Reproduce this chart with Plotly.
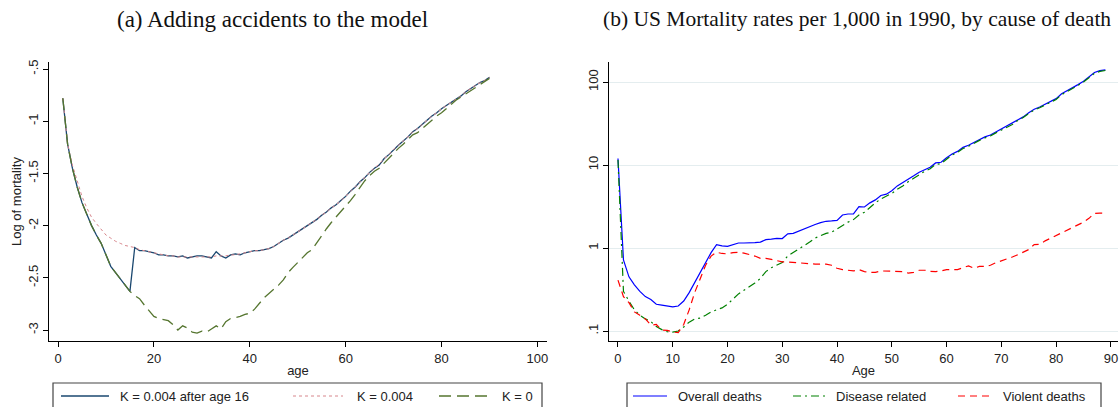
import plotly.graph_objects as go

W, H = 1119, 407

# ---------------- Panel (a) data ----------------
age_a = list(range(1, 91))
k_after16 = [
    -0.78, -1.22, -1.45, -1.63, -1.78, -1.90, -2.00, -2.09, -2.17, -2.28,
    -2.39, -2.45, -2.51, -2.57, -2.63, -2.21, -2.24, -2.24, -2.25, -2.26,
    -2.28, -2.28, -2.29, -2.29, -2.30, -2.29, -2.31, -2.30, -2.29, -2.29,
    -2.30, -2.31, -2.25, -2.29, -2.31, -2.28, -2.27, -2.28, -2.26, -2.25,
    -2.24, -2.24, -2.23, -2.22, -2.20, -2.17, -2.14, -2.12, -2.09, -2.06,
    -2.03, -2.00, -1.97, -1.94, -1.90, -1.87, -1.83, -1.80, -1.76, -1.72,
    -1.67, -1.63, -1.58, -1.54, -1.49, -1.45, -1.42, -1.36, -1.32, -1.27,
    -1.23, -1.19, -1.15, -1.10, -1.07, -1.03, -0.99, -0.95, -0.92, -0.88,
    -0.85, -0.82, -0.79, -0.76, -0.72, -0.69, -0.66, -0.63, -0.61, -0.58,
]
k_004 = [
    -0.78, -1.22, -1.42, -1.58, -1.72, -1.83, -1.92, -1.98, -2.04, -2.09,
    -2.12, -2.15, -2.17, -2.19, -2.20, -2.21, -2.23, -2.24, -2.25, -2.26,
    -2.27, -2.28, -2.29, -2.29, -2.30, -2.30, -2.30, -2.30, -2.30, -2.30,
    -2.30, -2.30, -2.29, -2.29, -2.29, -2.28, -2.28, -2.27, -2.26, -2.25,
    -2.24, -2.24, -2.23, -2.22, -2.20, -2.17, -2.14, -2.12, -2.09, -2.06,
    -2.03, -2.00, -1.97, -1.94, -1.90, -1.87, -1.83, -1.80, -1.76, -1.72,
    -1.67, -1.63, -1.58, -1.54, -1.49, -1.45, -1.41, -1.36, -1.32, -1.27,
    -1.23, -1.19, -1.15, -1.10, -1.07, -1.03, -0.99, -0.95, -0.92, -0.88,
    -0.85, -0.82, -0.79, -0.76, -0.72, -0.69, -0.66, -0.63, -0.61, -0.58,
]
k_0 = [
    -0.78, -1.22, -1.45, -1.63, -1.78, -1.90, -2.00, -2.09, -2.17, -2.28,
    -2.39, -2.45, -2.51, -2.57, -2.63, -2.67, -2.70, -2.76, -2.82, -2.87,
    -2.89, -2.90, -2.91, -2.95, -3.00, -2.96, -2.98, -3.02, -3.03, -3.01,
    -3.02, -2.99, -2.96, -2.99, -2.92, -2.89, -2.88, -2.87, -2.85, -2.84,
    -2.80, -2.74, -2.69, -2.65, -2.61, -2.57, -2.52, -2.45, -2.40, -2.35,
    -2.30, -2.26, -2.23, -2.16, -2.10, -2.03, -1.97, -1.92, -1.86, -1.81,
    -1.76, -1.70, -1.63, -1.57, -1.52, -1.48, -1.45, -1.40, -1.35, -1.30,
    -1.26, -1.22, -1.17, -1.13, -1.11, -1.07, -1.03, -0.99, -0.95, -0.92,
    -0.88, -0.84, -0.80, -0.77, -0.74, -0.71, -0.68, -0.65, -0.62, -0.59,
]
a_xticks = [0, 20, 40, 60, 80, 100]
a_yticks = [-3, -2.5, -2, -1.5, -1, -0.5]
a_yticktext = ["-3", "-2.5", "-2", "-1.5", "-1", "-.5"]

# ---------------- Panel (b) data ----------------
age_b = list(range(0, 90))
overall = [
    12.0, 0.72, 0.45, 0.36, 0.30, 0.26, 0.24, 0.21, 0.205, 0.20,
    0.196, 0.20, 0.23, 0.29, 0.38, 0.50, 0.66, 0.88, 1.10, 1.06,
    1.05, 1.10, 1.15, 1.15, 1.15, 1.16, 1.18, 1.26, 1.28, 1.31,
    1.30, 1.48, 1.50, 1.60, 1.70, 1.80, 1.92, 2.02, 2.10, 2.12,
    2.15, 2.50, 2.57, 2.58, 3.15, 3.12, 3.50, 3.80, 4.30, 4.45,
    4.90, 5.60, 6.10, 6.80, 7.40, 8.20, 8.80, 9.40, 10.6, 10.8,
    12.2, 13.6, 14.6, 16.3, 17.3, 18.8, 20.3, 21.8, 23.0, 25.0,
    27.0, 29.5, 31.5, 35.0, 38.0, 42.5, 47.0, 50.0, 54.0, 57.5,
    63.0, 72.0, 78.0, 84.0, 93.0, 102.0, 115.0, 130.0, 137.0, 140.0,
]
disease = [
    11.5, 0.30, 0.23, 0.18, 0.155, 0.14, 0.13, 0.113, 0.104, 0.098,
    0.097, 0.10, 0.112, 0.128, 0.14, 0.143, 0.155, 0.17, 0.18, 0.19,
    0.21, 0.24, 0.28, 0.31, 0.34, 0.38, 0.43, 0.52, 0.58, 0.62,
    0.67, 0.80, 0.88, 0.96, 1.06, 1.18, 1.32, 1.42, 1.50, 1.55,
    1.70, 1.90, 2.05, 2.20, 2.50, 2.70, 3.10, 3.50, 3.90, 4.20,
    4.55, 5.10, 5.60, 6.30, 6.90, 7.70, 8.40, 9.00, 10.2, 10.4,
    11.8, 13.2, 14.2, 15.8, 16.8, 18.3, 19.8, 21.2, 22.4, 24.4,
    26.4, 28.8, 30.8, 34.3, 37.3, 41.6, 46.0, 49.0, 53.0, 56.2,
    61.6, 70.5, 76.4, 82.3, 91.2, 100.0, 112.8, 127.5, 134.0, 137.5,
]
violent = [
    0.41, 0.26, 0.22, 0.17, 0.155, 0.14, 0.118, 0.12, 0.103, 0.102,
    0.097, 0.096, 0.12, 0.18, 0.29, 0.42, 0.62, 0.80, 0.89, 0.86,
    0.85, 0.88, 0.89, 0.87, 0.84, 0.80, 0.75, 0.75, 0.73, 0.70,
    0.68, 0.68, 0.67, 0.66, 0.65, 0.65, 0.64, 0.64, 0.64, 0.62,
    0.57, 0.55, 0.54, 0.53, 0.55, 0.52, 0.51, 0.51, 0.53, 0.53,
    0.525, 0.525, 0.52, 0.50, 0.51, 0.54, 0.54, 0.525, 0.52, 0.53,
    0.55, 0.55, 0.55, 0.58, 0.61, 0.57, 0.60, 0.60, 0.62, 0.665,
    0.70, 0.73, 0.78, 0.83, 0.90, 0.96, 1.10, 1.11, 1.22, 1.31,
    1.42, 1.52, 1.65, 1.76, 1.88, 2.05, 2.28, 2.62, 2.63, 2.62,
]
b_xticks = [0, 10, 20, 30, 40, 50, 60, 70, 80, 90]
b_yticks = [0.1, 1, 10, 100]
b_yticktext = [".1", "1", "10", "100"]

# ---------------- styling ----------------
NAVY = "#1a476f"
MAROON = "#d7868c"
FOREST = "#55752f"
SANS = "Liberation Sans, Arial, sans-serif"
SERIF = "Liberation Serif, Times New Roman, serif"


def px(x):
    return x / W


def py(y):
    return 1 - y / H


fig = go.Figure()

fig.add_trace(go.Scatter(x=age_a, y=k_after16, mode="lines", name="K = 0.004 after age 16",
                         line=dict(color=NAVY, width=1.3), xaxis="x", yaxis="y", showlegend=False))
fig.add_trace(go.Scatter(x=age_a, y=k_004, mode="lines", name="K = 0.004",
                         line=dict(color=MAROON, width=1, dash="dot"), xaxis="x", yaxis="y", showlegend=False))
fig.add_trace(go.Scatter(x=age_a, y=k_0, mode="lines", name="K = 0",
                         line=dict(color=FOREST, width=1.3, dash="12px,6px"), xaxis="x", yaxis="y", showlegend=False))

fig.add_trace(go.Scatter(x=age_b, y=overall, mode="lines", name="Overall deaths",
                         line=dict(color="#0000ff", width=1.2), xaxis="x2", yaxis="y2", showlegend=False))
fig.add_trace(go.Scatter(x=age_b, y=disease, mode="lines", name="Disease related",
                         line=dict(color="#008000", width=1.2, dash="8px,4px,2px,4px"), xaxis="x2", yaxis="y2", showlegend=False))
fig.add_trace(go.Scatter(x=age_b, y=violent, mode="lines", name="Violent deaths",
                         line=dict(color="#ff0000", width=1.2, dash="7px,5px"), xaxis="x2", yaxis="y2", showlegend=False))

axis_common = dict(showline=True, linecolor="black", linewidth=1.2, ticks="outside", ticklen=5,
                   tickwidth=1, tickcolor="black", zeroline=False,
                   tickfont=dict(family=SANS, size=13, color="#222"))

fig.update_layout(
    width=W, height=H,
    margin=dict(l=0, r=0, t=0, b=0, autoexpand=False),
    paper_bgcolor="white", plot_bgcolor="white",
    showlegend=False,
    xaxis=dict(domain=[px(49), px(547)], range=[-1.88, 102.0], tickvals=a_xticks,
               showgrid=False, anchor="y",
               title=dict(text="age", font=dict(family=SANS, size=13, color="#222"), standoff=1),
               **axis_common),
    yaxis=dict(domain=[py(341), py(62)], range=[-3.105, -0.433], tickvals=a_yticks,
               ticktext=a_yticktext, tickangle=-90, showgrid=False, anchor="x",
               title=dict(text="Log of mortality", font=dict(family=SANS, size=13, color="#222"), standoff=1),
               **axis_common),
    xaxis2=dict(domain=[px(609), px(1118)], range=[-1.64, 91.3], tickvals=b_xticks,
                showgrid=False, anchor="y2",
                title=dict(text="Age", font=dict(family=SANS, size=13, color="#222"), standoff=1),
                **axis_common),
    yaxis2=dict(domain=[py(341), py(62)], type="log", range=[-1.12, 2.241], tickvals=b_yticks,
                ticktext=b_yticktext, tickangle=-90, showgrid=True, gridcolor="#e4edef", gridwidth=1,
                anchor="x2", **axis_common),
)

annotations = [
    dict(text="(a) Adding accidents to the model", x=px(272), y=py(19), xref="paper", yref="paper",
         showarrow=False, xanchor="center", yanchor="middle",
         font=dict(family=SERIF, size=23, color="#111")),
    dict(text="(b) US Mortality rates per 1,000 in 1990, by cause of death", x=px(1113), y=py(19),
         xref="paper", yref="paper", showarrow=False, xanchor="right", yanchor="middle",
         font=dict(family=SERIF, size=21.5, color="#111")),
]

shapes = []
# legend boxes (clipped by the bottom of the figure)
for (x0, x1) in [(53, 542), (627, 1101)]:
    shapes.append(dict(type="rect", xref="paper", yref="paper", x0=px(x0), x1=px(x1),
                       y0=py(425), y1=py(383), line=dict(color="#444", width=1.2),
                       fillcolor="white", layer="above"))

legend_items = [
    (61, 109, 118, "K = 0.004 after age 16", NAVY, "solid", 1.3),
    (293, 343, 355, "K = 0.004", MAROON, "dot", 1),
    (439, 492, 500, "K = 0", FOREST, "12px,6px", 1.3),
    (633, 667, 676, "Overall deaths", "#0000ff", "solid", 1.2),
    (793, 827, 834, "Disease related", "#008000", "8px,4px,2px,4px", 1.2),
    (958, 992, 1001, "Violent deaths", "#ff0000", "7px,5px", 1.2),
]
LY = 396
for (lx0, lx1, tx, label, col, dash, w) in legend_items:
    shapes.append(dict(type="line", xref="paper", yref="paper", x0=px(lx0), x1=px(lx1),
                       y0=py(LY), y1=py(LY), line=dict(color=col, width=w, dash=dash), layer="above"))
    annotations.append(dict(text=label, x=px(tx), y=py(LY), xref="paper", yref="paper",
                            showarrow=False, xanchor="left", yanchor="middle",
                            font=dict(family=SANS, size=13, color="#222")))

fig.update_layout(annotations=annotations, shapes=shapes)

fig.write_html("out.html")
